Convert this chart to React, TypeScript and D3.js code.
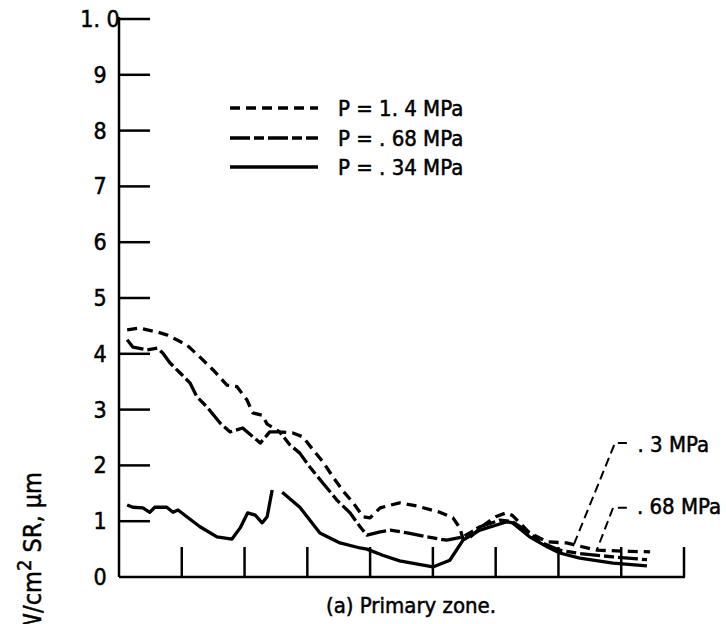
import React from "react";
import * as d3 from "d3";

const W = 726;
const H = 624;

const yTickValues = [0, 1, 2, 3, 4, 5, 6, 7, 8, 9, 10];
const yTickLabels = ["0", "1", "2", "3", "4", "5", "6", "7", "8", "9", "1. 0"];
const xTickValues = [1, 2, 3, 4, 5, 6, 7, 8, 9];

// P = 1.4 MPa
const hiX = [0.13, 0.33, 0.61, 0.76, 0.92, 1.08, 1.29, 1.5, 1.72, 1.88, 2.04, 2.13, 2.28, 2.36, 2.56, 2.77, 2.93, 3.09, 3.25, 3.41, 3.57, 3.73, 3.89, 4.0, 4.16, 4.47, 4.75, 5.11, 5.32, 5.43, 5.48, 5.6, 5.8, 6.0, 6.17, 6.27, 6.54, 6.82, 7.13, 7.61, 8.14, 8.46];
const hiY = [4.43, 4.46, 4.39, 4.34, 4.25, 4.16, 3.94, 3.71, 3.44, 3.41, 3.17, 2.94, 2.9, 2.74, 2.6, 2.58, 2.51, 2.28, 2.06, 1.79, 1.54, 1.33, 1.08, 1.06, 1.24, 1.33, 1.27, 1.16, 1.06, 0.88, 0.68, 0.72, 0.92, 1.08, 1.15, 1.1, 0.79, 0.63, 0.61, 0.48, 0.46, 0.45];

// P = .68 MPa
const midX = [0.13, 0.22, 0.45, 0.61, 0.7, 0.81, 0.97, 1.13, 1.24, 1.4, 1.61, 1.77, 1.97, 2.25, 2.4, 2.56, 2.72, 2.88, 3.04, 3.25, 3.47, 3.68, 3.84, 3.95, 4.16, 4.32, 4.59, 4.9, 5.22, 5.48, 5.75, 6.07, 6.27, 6.54, 6.7, 7.02, 7.34, 7.87, 8.41];
const midY = [4.25, 4.12, 4.07, 4.1, 4.01, 3.84, 3.66, 3.48, 3.23, 3.05, 2.76, 2.6, 2.67, 2.4, 2.6, 2.6, 2.37, 2.22, 1.97, 1.68, 1.38, 1.15, 0.9, 0.75, 0.81, 0.84, 0.79, 0.72, 0.66, 0.72, 0.9, 1.02, 0.99, 0.79, 0.63, 0.48, 0.42, 0.36, 0.31];

// P = .34 MPa (NaN marks the gap in the trace)
const lowX = [0.13, 0.22, 0.38, 0.49, 0.57, 0.76, 0.86, 0.94, 1.08, 1.29, 1.56, 1.8, 1.93, 2.05, 2.17, 2.28, 2.36, 2.44, 2.52, 2.6, 2.88, 3.2, 3.52, 3.84, 3.95, 4.2, 4.47, 5.0, 5.27, 5.48, 5.75, 6.18, 6.27, 6.54, 6.82, 7.02, 7.34, 7.87, 8.41];
const lowY = [1.29, 1.25, 1.24, 1.16, 1.25, 1.25, 1.16, 1.2, 1.08, 0.9, 0.72, 0.68, 0.88, 1.15, 1.11, 0.97, 1.08, 1.56, NaN, 1.52, 1.25, 0.79, 0.61, 0.52, 0.5, 0.39, 0.29, 0.18, 0.3, 0.66, 0.84, 0.99, 0.97, 0.72, 0.54, 0.43, 0.34, 0.25, 0.2];

const legendLabels = ["P = 1. 4 MPa", "P = . 68 MPa", "P = . 34 MPa"];

// annotation leaders
const noteLabels = [". 3 MPa", ". 68 MPa"];
const noteTextX = [8.26, 8.25];
const noteTextY = [2.24, 1.13];
const noteElbowX = [7.9, 7.87];
const noteElbowY = [2.4, 1.24];
const noteStartX = [8.09, 8.09];
const noteEndX = [7.23, 7.61];
const noteEndY = [0.54, 0.48];

const FONT = "'DejaVu Sans Condensed', 'Liberation Sans Narrow', sans-serif";

export default function App() {
  const x = d3.scaleLinear().domain([0, 9]).range([119, 684]);
  const y = d3.scaleLinear().domain([0, 10]).range([577, 19]);

  const line = d3
    .line<[number, number]>()
    .defined((d) => !isNaN(d[1]))
    .x((d) => x(d[0]))
    .y((d) => y(d[1]));

  const series = [
    { pts: hiX.map((v, i) => [v, hiY[i]] as [number, number]), dash: "10,6" },
    { pts: midX.map((v, i) => [v, midY[i]] as [number, number]), dash: "20,4,10,4" },
    { pts: lowX.map((v, i) => [v, lowY[i]] as [number, number]), dash: "none" },
  ];

  const legendY = [108, 138, 167];
  const txt = { fill: "#000", stroke: "#000", strokeWidth: 0.5 };

  return (
    <svg
      width={W}
      height={H}
      style={{ position: "absolute", left: 0, top: 0, background: "#fff" }}
      fontFamily={FONT}
    >
      <rect x={0} y={0} width={W} height={H} fill="#fff" />
      {/* y axis */}
      <line x1={x(0)} x2={x(0)} y1={y(10) - 2} y2={y(0)} stroke="#000" strokeWidth={2.5} />
      {yTickValues.map((v, i) => (
        <g key={"yt" + i}>
          {v > 0 && (
            <line x1={x(0)} x2={x(0) + 31} y1={y(v)} y2={y(v)} stroke="#000" strokeWidth={2.5} />
          )}
          <text x={100} y={y(v) + 8} fontSize={23} textAnchor="middle" {...txt}>
            {yTickLabels[i]}
          </text>
        </g>
      ))}
      {/* x axis */}
      <line x1={x(0)} x2={x(9) + 1} y1={y(0)} y2={y(0)} stroke="#000" strokeWidth={2.5} />
      {xTickValues.map((v) => (
        <line key={"xt" + v} x1={x(v)} x2={x(v)} y1={y(0)} y2={y(0) - 30} stroke="#000" strokeWidth={2.5} />
      ))}

      {/* curves */}
      {series.map((s, i) => (
        <path
          key={"s" + i}
          d={line(s.pts) || ""}
          fill="none"
          stroke="#000"
          strokeWidth={3.3}
          strokeDasharray={s.dash}
          strokeLinejoin="round"
        />
      ))}

      {/* legend */}
      {legendLabels.map((l, i) => (
        <g key={"lg" + i}>
          <line
            x1={230}
            x2={318}
            y1={legendY[i]}
            y2={legendY[i]}
            stroke="#000"
            strokeWidth={3.3}
            strokeDasharray={series[i].dash}
          />
          <text x={338} y={legendY[i] + 8} fontSize={22} {...txt}>
            {l}
          </text>
        </g>
      ))}

      {/* annotations */}
      {noteLabels.map((l, i) => (
        <g key={"nt" + i}>
          <path
            d={`M${x(noteStartX[i])},${y(noteElbowY[i])}L${x(noteElbowX[i])},${y(noteElbowY[i])}L${x(noteEndX[i])},${y(noteEndY[i])}`}
            fill="none"
            stroke="#000"
            strokeWidth={2}
            strokeDasharray="9,5"
          />
          <text x={x(noteTextX[i])} y={y(noteTextY[i])} fontSize={22} {...txt}>
            {l}
          </text>
        </g>
      ))}

      {/* caption */}
      <text x={411} y={613} fontSize={22} textAnchor="middle" {...txt}>
        (a) Primary zone.
      </text>

      {/* y label (cut off at the page edge) */}
      <text
        transform={`translate(41,472) rotate(-90)`}
        fontSize={25}
        textAnchor="end"
        {...txt}
      >
        W/cm<tspan dy={-10} fontSize={20}>2</tspan>
        <tspan dy={10}> SR, µm</tspan>
      </text>
    </svg>
  );
}
